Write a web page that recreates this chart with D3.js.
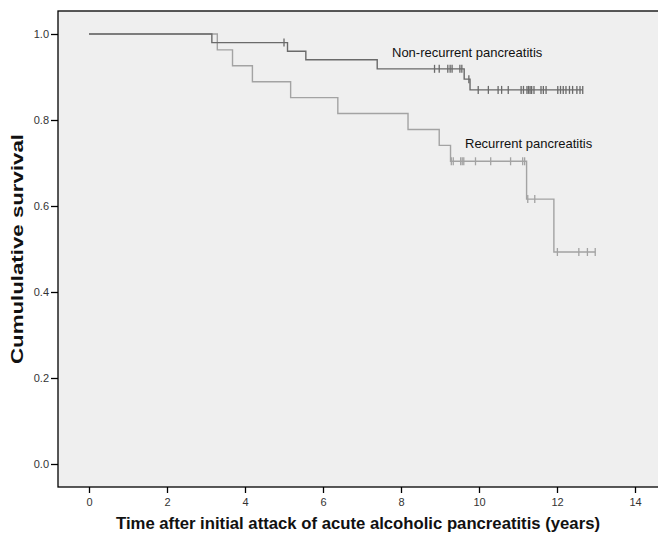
<!DOCTYPE html>
<html><head><meta charset="utf-8">
<script src="https://cdn.jsdelivr.net/npm/d3@7"></script>
<style>body{margin:0;background:#fff;} text{font-family:"Liberation Sans",Arial,sans-serif;}</style>
</head><body><svg id="c" width="658" height="536"></svg>
<script>
// Data
const xTicks = [0, 2, 4, 6, 8, 10, 12, 14];
const yTicks = [0.0, 0.2, 0.4, 0.6, 0.8, 1.0];
const nonRecEventTimes = [3.15, 5.09, 5.56, 7.39, 9.62, 9.77];
const nonRecEventSurv  = [0.980, 0.960, 0.940, 0.919, 0.895, 0.870];
const nonRecCensored = [5.00, 8.86, 8.98, 9.20, 9.26, 9.31, 9.51, 9.56, 9.74,
  9.98, 10.24, 10.49, 10.58, 10.75, 11.08, 11.14, 11.23, 11.27, 11.31, 11.35, 11.41,
  11.59, 11.65, 11.72, 12.02, 12.09, 12.16, 12.23, 12.32, 12.40, 12.51, 12.59, 12.66];
const recEventTimes = [3.29, 3.68, 4.19, 5.17, 6.38, 8.18, 8.98, 9.27, 11.22, 11.92];
const recEventSurv  = [0.963, 0.926, 0.889, 0.852, 0.815, 0.778, 0.741, 0.704, 0.616, 0.493];
const recCensored = [9.29, 9.34, 9.53, 9.57, 9.61, 9.91, 10.30, 10.81, 11.12, 11.17,
  11.25, 11.43, 12.01, 12.56, 12.78, 12.98];

const svg = d3.select("#c");
const L = 58, T = 11, B = 487, R = 660;
const x = d3.scaleLinear().domain([0, 14]).range([89, 635]);
const y = d3.scaleLinear().domain([0, 1]).range([464, 34]);

svg.append("rect").attr("x", L).attr("y", T).attr("width", R - L).attr("height", B - T)
  .attr("fill", "#efefef").attr("stroke", "#000").attr("stroke-width", 1.3);

// axes
const xa = svg.append("g").attr("transform", `translate(0,${B})`)
  .call(d3.axisBottom(x).tickValues(xTicks).tickSize(6).tickSizeOuter(0).tickPadding(5).tickFormat(d3.format("d")));
xa.select(".domain").remove();
xa.selectAll("line").attr("stroke", "#000").attr("stroke-width", 1.3);
xa.selectAll("text").attr("font-size", 11).attr("fill", "#333").attr("font-family", "Liberation Sans, Arial");

const ya = svg.append("g").attr("transform", `translate(${L},0)`)
  .call(d3.axisLeft(y).tickValues(yTicks).tickSize(7).tickPadding(2).tickFormat(d3.format(".1f")));
ya.select(".domain").remove();
ya.selectAll("line").attr("stroke", "#000").attr("stroke-width", 1.3);
ya.selectAll("text").attr("font-size", 11).attr("fill", "#333").attr("font-family", "Liberation Sans, Arial");

function survAt(times, surv, t) {
  let s = 1;
  for (let i = 0; i < times.length; i++) if (times[i] <= t) s = surv[i];
  return s;
}
function drawCurve(times, surv, cens, color) {
  const end = Math.max(d3.max(cens), d3.max(times));
  const pts = [[0, 1]].concat(times.map((t, i) => [t, surv[i]]));
  pts.push([end, surv[surv.length - 1]]);
  const line = d3.line().x(d => x(d[0])).y(d => y(d[1])).curve(d3.curveStepAfter);
  svg.append("path").attr("d", line(pts)).attr("fill", "none").attr("stroke", color).attr("stroke-width", 1.4);
  svg.append("g").selectAll("line").data(cens).join("line")
    .attr("x1", d => x(d)).attr("x2", d => x(d))
    .attr("y1", d => y(survAt(times, surv, d)) - 4).attr("y2", d => y(survAt(times, surv, d)) + 4)
    .attr("stroke", color).attr("stroke-width", 1.3);
}
drawCurve(recEventTimes, recEventSurv, recCensored, "#a3a3a3");
drawCurve(nonRecEventTimes, nonRecEventSurv, nonRecCensored, "#6a6a6a");

svg.append("text").attr("x", 392).attr("y", 57).attr("font-size", 13).attr("fill", "#111").text("Non-recurrent pancreatitis");
svg.append("text").attr("x", 465).attr("y", 148).attr("font-size", 13).attr("fill", "#111").text("Recurrent pancreatitis");

svg.append("text").attr("x", 358).attr("y", 529).attr("text-anchor", "middle").attr("font-size", 17)
  .attr("font-weight", "bold").attr("fill", "#111").attr("textLength", 484).attr("lengthAdjust", "spacingAndGlyphs")
  .text("Time after initial attack of acute alcoholic pancreatitis (years)");
svg.append("text").attr("transform", "translate(23,249) rotate(-90)").attr("text-anchor", "middle")
  .attr("font-size", 16).attr("font-weight", "bold").attr("fill", "#111")
  .attr("textLength", 230).attr("lengthAdjust", "spacingAndGlyphs")
  .text("Cumululative survival");
</script></body></html>
